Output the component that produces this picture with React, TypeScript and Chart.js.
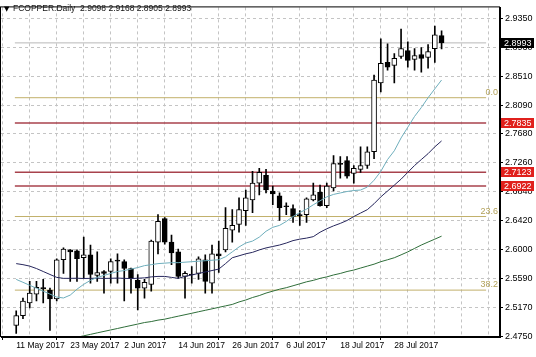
import React, { useEffect, useRef } from 'react';
import { Chart, registerables } from 'chart.js';

Chart.register(...registerables);

const TITLE = 'FCOPPER.Daily  2.9098 2.9168 2.8905 2.8993';

const OPEN = [
  2.4906, 2.5048, 2.5233, 2.5360, 2.5453, 2.5417, 2.5289, 2.5857, 2.5999, 2.5985,
  2.5886, 2.5928, 2.5630, 2.5687, 2.5687, 2.5843, 2.5829, 2.5730, 2.5559, 2.5446,
  2.5502, 2.6113, 2.6454, 2.6113, 2.5971, 2.5616, 2.5644, 2.5659, 2.5857, 2.5517,
  2.5942, 2.5999, 2.6283, 2.6368, 2.6567, 2.6723, 2.6965, 2.7078, 2.6851, 2.6780,
  2.6638, 2.6596, 2.6510, 2.6510, 2.6723, 2.6837, 2.6638, 2.6894, 2.7249, 2.7291,
  2.7107, 2.7163, 2.7220, 2.7419, 2.8413, 2.8711, 2.8668, 2.8796, 2.8881, 2.8754,
  2.8825, 2.8782, 2.8910, 2.9098,
];
const HIGH = [
  2.5119, 2.5303, 2.5545, 2.5545, 2.5573, 2.5446, 2.5871, 2.6028, 2.6005, 2.5999,
  2.6184, 2.6070, 2.5971, 2.5701, 2.5871, 2.5942, 2.5857, 2.5735, 2.5644, 2.5573,
  2.6141, 2.6510, 2.6468, 2.6212, 2.6013, 2.5687, 2.5758, 2.5900, 2.5928, 2.6070,
  2.6127, 2.6610, 2.6581, 2.6752, 2.6865, 2.7135, 2.7178, 2.7163, 2.6922, 2.6823,
  2.6681, 2.6652, 2.6567, 2.6752, 2.6965, 2.6936, 2.6965, 2.7362, 2.7348, 2.7348,
  2.7220, 2.7490, 2.7490, 2.8527, 2.9052, 2.8981, 2.8839, 2.9194, 2.9009, 2.8910,
  2.8924, 2.8967, 2.9236, 2.9168,
];
const LOW = [
  2.4792, 2.5006, 2.5162, 2.5261, 2.5233, 2.4835, 2.5261, 2.5659, 2.5545, 2.5545,
  2.5588, 2.5517, 2.5545, 2.5374, 2.5517, 2.5517, 2.5261, 2.5374, 2.5133, 2.5303,
  2.5403, 2.5942, 2.6084, 2.5786, 2.5588, 2.5303, 2.5517, 2.5573, 2.5374, 2.5374,
  2.5673, 2.5971, 2.6113, 2.6255, 2.6354, 2.6539, 2.6794, 2.6823, 2.6652, 2.6425,
  2.6510, 2.6397, 2.6354, 2.6397, 2.6709, 2.6630, 2.6610, 2.6851, 2.7036, 2.7036,
  2.6965, 2.7121, 2.7178, 2.7320, 2.8285, 2.8597, 2.8413, 2.8768, 2.8640, 2.8597,
  2.8569, 2.8626, 2.8711, 2.8905,
];
const CLOSE = [
  2.5048, 2.5261, 2.5374, 2.5460, 2.5439, 2.5289, 2.5857, 2.6013, 2.5971, 2.5871,
  2.5928, 2.5644, 2.5673, 2.5659, 2.5829, 2.5836, 2.5730, 2.5588, 2.5446, 2.5531,
  2.6127, 2.6411, 2.6113, 2.5957, 2.5616, 2.5659, 2.5637, 2.5871, 2.5545, 2.5942,
  2.5914, 2.6312, 2.6354, 2.6581, 2.6752, 2.6965, 2.7121, 2.6865, 2.6809, 2.6610,
  2.6624, 2.6482, 2.6496, 2.6738, 2.6794, 2.6638, 2.6922, 2.7249, 2.7235, 2.7064,
  2.7178, 2.7220, 2.7419, 2.8456, 2.8697, 2.8640, 2.8768, 2.8910, 2.8739, 2.8810,
  2.8768, 2.8867, 2.9109, 2.8993,
];

const MA_FAST = [
  2.5573, 2.5531, 2.5488, 2.5446, 2.5403, 2.5360, 2.5318, 2.5304, 2.5346, 2.5431,
  2.5502, 2.5559, 2.5602, 2.5630, 2.5659, 2.5687, 2.5701, 2.5722, 2.5744, 2.5772,
  2.5786, 2.5801, 2.5808, 2.5815, 2.5815, 2.5822, 2.5829, 2.5836, 2.5843, 2.5850,
  2.5857, 2.5900, 2.5971, 2.6042, 2.6099, 2.6127, 2.6184, 2.6269, 2.6326, 2.6354,
  2.6411, 2.6482, 2.6539, 2.6589, 2.6652, 2.6709, 2.6766, 2.6802, 2.6823, 2.6844,
  2.6858, 2.6865, 2.6908, 2.7007, 2.7135, 2.7306, 2.7433, 2.7618, 2.7774, 2.7930,
  2.8058, 2.8200, 2.8328, 2.8456,
];
const MA_MID = [
  2.5801, 2.5786, 2.5765, 2.5730, 2.5687, 2.5644, 2.5602, 2.5588, 2.5588, 2.5590,
  2.5586, 2.5588, 2.5591, 2.5587, 2.5589, 2.5592, 2.5588, 2.5585, 2.5590, 2.5595,
  2.5609, 2.5616, 2.5616, 2.5602, 2.5588, 2.5616, 2.5637, 2.5659, 2.5680, 2.5701,
  2.5722, 2.5801, 2.5886, 2.5914, 2.5943, 2.5964, 2.5999, 2.6028, 2.6049, 2.6070,
  2.6099, 2.6134, 2.6155, 2.6170, 2.6191, 2.6255, 2.6305, 2.6347, 2.6383, 2.6425,
  2.6482, 2.6532, 2.6581, 2.6667, 2.6766, 2.6851, 2.6936, 2.7022, 2.7121, 2.7220,
  2.7306, 2.7391, 2.7490, 2.7575,
];
const MA_SLOW = [
  null, null, null, null, null, null, 2.4636, 2.4679, 2.4707, 2.4736,
  2.4757, 2.4778, 2.4800, 2.4821, 2.4842, 2.4863, 2.4885, 2.4906, 2.4927, 2.4949,
  2.4963, 2.4984, 2.4998, 2.5020, 2.5041, 2.5062, 2.5083, 2.5105, 2.5126, 2.5147,
  2.5169, 2.5190, 2.5211, 2.5247, 2.5275, 2.5311, 2.5339, 2.5375, 2.5403, 2.5431,
  2.5453, 2.5481, 2.5509, 2.5538, 2.5559, 2.5588, 2.5609, 2.5637, 2.5659, 2.5687,
  2.5708, 2.5737, 2.5765, 2.5793, 2.5829, 2.5857, 2.5886, 2.5928, 2.5971, 2.6021,
  2.6070, 2.6113, 2.6155, 2.6198,
];

const X_LABELS = ['11 May 2017', '23 May 2017', '2 Jun 2017', '14 Jun 2017', '26 Jun 2017', '6 Jul 2017', '18 Jul 2017', '28 Jul 2017'];
const X_LABEL_BARS = [0, 8, 16, 24, 32, 40, 48, 56];
const Y_TICKS = [2.4750, 2.5170, 2.5590, 2.6000, 2.6420, 2.6840, 2.7260, 2.7680, 2.8090, 2.8510, 2.8930, 2.9350];

const RED_LEVELS = [2.7835, 2.7123, 2.6922];
const FIB_LEVELS = [2.8200, 2.6482, 2.5418];
const FIB_NAMES = ['0.0', '23.6', '38.2'];
const BID = 2.8993;

const Y_MIN = 2.474;
const Y_MAX = 2.9506;
const X_MIN = -0.2;
const X_MAX = 69.6;
const FONT = '"Liberation Sans", Arial, sans-serif';

export default function App() {
  const ref = useRef<HTMLCanvasElement>(null);

  useEffect(() => {
    const canvas = ref.current;
    if (!canvas) return;
    const idx = OPEN.map((_, i) => i);
    const bodies = idx.map((i) => ({ x: i, y: [OPEN[i], CLOSE[i]] }));
    const wicks = idx.map((i) => ({ x: i, y: [LOW[i], HIGH[i]] }));
    const hline = (v: number) => [{ x: X_MIN, y: v }, { x: X_MAX, y: v }];
    const series = (arr: (number | null)[]) => arr.map((v, i) => ({ x: i, y: v }));
    const gridBars: number[] = [];
    for (let b = 0; b <= X_MAX; b += 4) gridBars.push(b);

    const lineBase = { type: 'line' as const, pointRadius: 0, fill: false, tension: 0, spanGaps: true };

    const overlay = {
      id: 'overlay',
      afterDraw(chart: any) {
        const { ctx, chartArea: a, scales } = chart;
        const ys = scales.y;
        ctx.save();
        ctx.strokeStyle = '#000';
        ctx.lineWidth = 1;
        ctx.strokeRect(a.left - 0.5, a.top - 0.5, a.right - a.left, a.bottom - a.top);
        // fib labels
        ctx.font = `9px ${FONT}`;
        ctx.fillStyle = '#b3a25a';
        ctx.textAlign = 'right';
        ctx.textBaseline = 'bottom';
        FIB_LEVELS.forEach((v, k) => {
          ctx.fillText(FIB_NAMES[k], a.right - 2, ys.getPixelForValue(v) - 1);
        });
        // price tags
        const tag = (v: number, bg: string) => {
          const py = Math.round(ys.getPixelForValue(v));
          ctx.fillStyle = bg;
          ctx.fillRect(a.right + 1, py - 5, 33, 10);
          ctx.fillStyle = '#fff';
          ctx.textAlign = 'left';
          ctx.textBaseline = 'middle';
          ctx.font = `9px ${FONT}`;
          ctx.fillText(v.toFixed(4), a.right + 4, py + 0.5);
        };
        RED_LEVELS.forEach((v) => tag(v, '#e0201c'));
        tag(BID, '#000');
        // title
        ctx.fillStyle = '#000';
        ctx.textAlign = 'left';
        ctx.textBaseline = 'middle';
        ctx.font = '7px "DejaVu Sans"';
        ctx.fillText('▼', 4, 9);
        ctx.font = `8.5px ${FONT}`;
        ctx.fillStyle = '#111';
        ctx.fillText(TITLE, 13, 9);
        ctx.restore();
      },
    };

    const chart = new Chart(canvas, {
      type: 'bar',
      data: {
        datasets: [
          { ...lineBase, data: series(MA_FAST), borderColor: '#6eaebc', borderWidth: 1, order: 0 },
          { ...lineBase, data: series(MA_MID), borderColor: '#26265c', borderWidth: 1, order: 0 },
          { ...lineBase, data: series(MA_SLOW), borderColor: '#2f6e3a', borderWidth: 1, order: 0 },
          {
            type: 'bar',
            data: bodies,
            backgroundColor: idx.map((i) => (CLOSE[i] >= OPEN[i] ? '#ffffff' : '#000000')),
            borderColor: '#000',
            borderWidth: 1,
            borderSkipped: false,
            barThickness: 5,
            grouped: false,
            minBarLength: 1,
            order: 5,
          },
          {
            type: 'bar',
            data: wicks,
            backgroundColor: '#000',
            barThickness: 1,
            grouped: false,
            order: 6,
          },
          ...RED_LEVELS.map((v) => ({ ...lineBase, data: hline(v), borderColor: '#a8424c', borderWidth: 1.5, order: 10 })),
          ...FIB_LEVELS.map((v) => ({ ...lineBase, data: hline(v), borderColor: '#c2b06a', borderWidth: 1, order: 10 })),
          { ...lineBase, data: hline(BID), borderColor: '#b8b8b8', borderWidth: 1, order: 10 },
        ] as any,
      },
      options: {
        responsive: false,
        animation: false,
        events: [],
        layout: { padding: { left: 1, top: 1, right: 0, bottom: 0 } },
        plugins: { legend: { display: false }, tooltip: { enabled: false } },
        scales: {
          x: {
            type: 'linear',
            min: X_MIN,
            max: X_MAX,
            afterBuildTicks: (s: any) => {
              s.ticks = gridBars.map((v) => ({ value: v }));
            },
            afterFit: (s: any) => {
              s.height = 20;
            },
            ticks: {
              autoSkip: false,
              maxRotation: 0,
              minRotation: 0,
              align: 'start',
              padding: 1,
              color: '#000',
              font: { family: FONT, size: 8.5 },
              callback: (v: any) => {
                const k = X_LABEL_BARS.indexOf(Number(v));
                return k >= 0 ? X_LABELS[k] : '';
              },
            },
            grid: {
              color: '#c4c4c4',
              tickLength: 3,
              tickColor: (c: any) => (c.tick && X_LABEL_BARS.includes(c.tick.value) ? '#000' : 'rgba(0,0,0,0)'),
            },
            border: { display: true, color: '#000', dash: [3, 3] },
          },
          y: {
            type: 'linear',
            position: 'right',
            min: Y_MIN,
            max: Y_MAX,
            afterBuildTicks: (s: any) => {
              s.ticks = Y_TICKS.map((v) => ({ value: v }));
            },
            afterFit: (s: any) => {
              s.width = 36;
            },
            ticks: {
              autoSkip: false,
              padding: 2,
              color: '#000',
              font: { family: FONT, size: 9 },
              callback: (v: any) => Number(v).toFixed(4),
            },
            grid: { color: '#c4c4c4', tickLength: 3, tickColor: '#000' },
            border: { display: true, color: '#000', dash: [3, 3] },
          },
        },
      } as any,
      plugins: [overlay],
    });
    return () => chart.destroy();
  }, []);

  return (
    <div style={{ position: 'fixed', left: 0, top: 0, width: 536, height: 357, background: '#fff' }}>
      <canvas ref={ref} width={536} height={357} style={{ display: 'block', width: 536, height: 357 }} />
    </div>
  );
}
